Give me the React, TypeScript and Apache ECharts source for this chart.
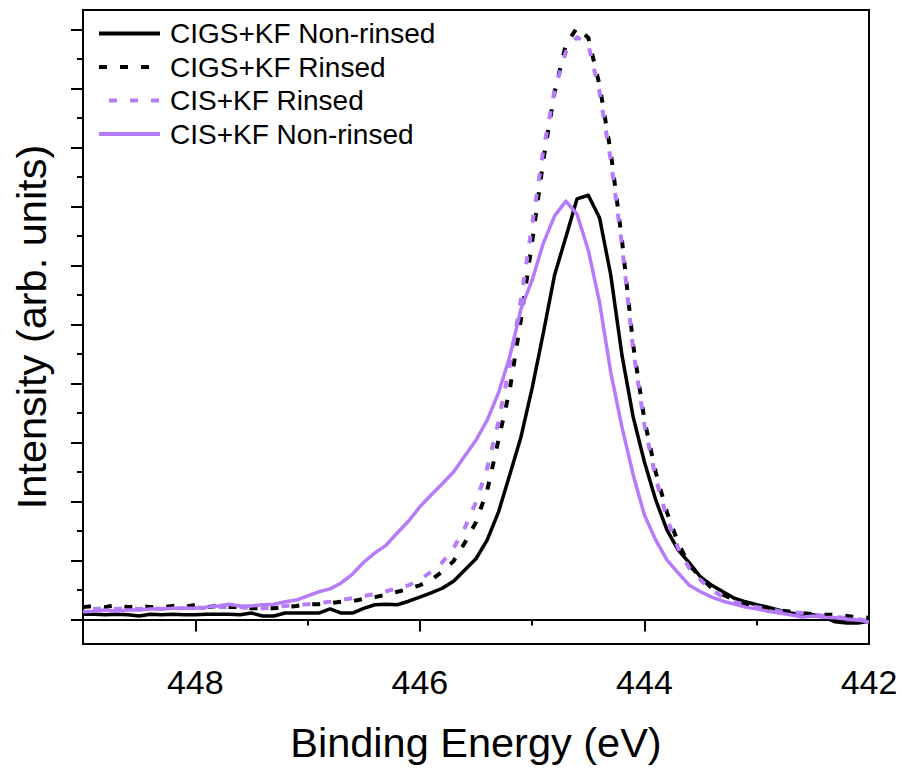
import React, { useEffect, useRef } from "react";
import * as echarts from "echarts";

const energy = [
  449.0, 448.9, 448.8, 448.7, 448.6, 448.5, 448.4, 448.3, 448.2, 448.1,
  448.0, 447.9, 447.8, 447.7, 447.6, 447.5, 447.4, 447.3, 447.2, 447.1,
  447.0, 446.9, 446.8, 446.7, 446.6, 446.5, 446.4, 446.3, 446.2, 446.1,
  446.0, 445.9, 445.8, 445.7, 445.6, 445.5, 445.4, 445.3, 445.2, 445.1,
  445.0, 444.9, 444.8, 444.7, 444.6, 444.5, 444.4, 444.3, 444.2, 444.1,
  444.0, 443.9, 443.8, 443.7, 443.6, 443.5, 443.4, 443.3, 443.2, 443.1,
  443.0, 442.9, 442.8, 442.7, 442.6, 442.5, 442.4, 442.3, 442.2, 442.1,
  442.0,
];

const cigsNonRinsed = [
  0.09, 0.09, 0.08, 0.09, 0.08, 0.06, 0.09, 0.08, 0.09, 0.08,
  0.08, 0.09, 0.09, 0.09, 0.08, 0.11, 0.06, 0.06, 0.11, 0.11,
  0.11, 0.11, 0.18, 0.11, 0.11, 0.19, 0.25, 0.26, 0.25, 0.31,
  0.38, 0.45, 0.53, 0.65, 0.84, 1.03, 1.35, 1.82, 2.45, 3.09,
  3.92, 4.86, 5.84, 6.48, 7.13, 7.19, 6.81, 5.84, 4.48, 3.43,
  2.67, 2.03, 1.52, 1.18, 0.96, 0.72, 0.58, 0.47, 0.36, 0.30,
  0.25, 0.21, 0.16, 0.11, 0.08, 0.08, 0.04, -0.04, -0.06, -0.06,
  -0.03,
];

const cigsRinsed = [
  0.21, 0.23, 0.21, 0.25, 0.21, 0.23, 0.21, 0.21, 0.23, 0.21,
  0.25, 0.21, 0.23, 0.21, 0.21, 0.19, 0.19, 0.19, 0.21, 0.23,
  0.26, 0.26, 0.28, 0.30, 0.31, 0.35, 0.38, 0.42, 0.47, 0.52,
  0.58, 0.67, 0.81, 0.99, 1.30, 1.65, 2.19, 3.04, 3.89, 5.08,
  6.40, 7.79, 8.94, 9.74, 10.03, 9.86, 9.06, 7.92, 6.43, 4.65,
  3.38, 2.50, 1.82, 1.30, 0.92, 0.72, 0.53, 0.42, 0.33, 0.26,
  0.23, 0.18, 0.16, 0.13, 0.11, 0.09, 0.08, 0.08, 0.06, 0.04,
  0.03,
];

const cisRinsed = [
  0.18, 0.18, 0.19, 0.18, 0.19, 0.18, 0.19, 0.18, 0.19, 0.19,
  0.21, 0.19, 0.21, 0.21, 0.21, 0.19, 0.19, 0.21, 0.23, 0.25,
  0.26, 0.28, 0.30, 0.33, 0.36, 0.40, 0.43, 0.48, 0.53, 0.58,
  0.67, 0.81, 0.97, 1.21, 1.55, 1.99, 2.57, 3.35, 4.31, 5.42,
  6.69, 7.96, 8.97, 9.62, 9.87, 9.74, 8.94, 7.79, 6.35, 4.57,
  3.30, 2.40, 1.72, 1.21, 0.87, 0.67, 0.50, 0.38, 0.30, 0.25,
  0.21, 0.18, 0.14, 0.13, 0.11, 0.09, 0.06, 0.04, 0.03, 0.01,
  -0.03,
];

const cisNonRinsed = [
  0.13, 0.14, 0.16, 0.14, 0.16, 0.16, 0.18, 0.18, 0.19, 0.19,
  0.19, 0.21, 0.23, 0.26, 0.23, 0.23, 0.25, 0.26, 0.30, 0.33,
  0.40, 0.47, 0.52, 0.62, 0.77, 0.97, 1.13, 1.26, 1.47, 1.67,
  1.91, 2.11, 2.30, 2.50, 2.77, 3.04, 3.38, 3.84, 4.45, 5.26,
  5.75, 6.38, 6.84, 7.09, 6.87, 6.26, 5.38, 4.19, 3.26, 2.45,
  1.77, 1.35, 1.01, 0.79, 0.58, 0.47, 0.38, 0.31, 0.26, 0.21,
  0.18, 0.14, 0.11, 0.08, 0.04, 0.06, 0.04, 0.03, 0.01, -0.01,
  -0.04,
];

const seriesNames = [
  "CIGS+KF Non-rinsed",
  "CIGS+KF Rinsed",
  "CIS+KF Rinsed",
  "CIS+KF Non-rinsed",
];

const xMajorTicks = [442, 444, 446, 448];
const xMinorTicks = [443, 445, 447, 449];
const yMajorTicks = [0, 1, 2, 3, 4, 5, 6, 7, 8, 9, 10];
const yMinorTicks = [0.5, 1.5, 2.5, 3.5, 4.5, 5.5, 6.5, 7.5, 8.5, 9.5];

const FONT = 'Arial, "Liberation Sans", Helvetica, sans-serif';
const PURPLE = "#b57bf9";
const BLACK = "#000000";
const DOTS = [8, 13];

function pairs(vals: number[]) {
  return energy.map((e, i) => [e, vals[i]]);
}

export default function App() {
  const ref = useRef<HTMLDivElement>(null);

  useEffect(() => {
    if (!ref.current) return;
    const chart = echarts.init(ref.current, undefined, { renderer: "svg" });

    const xBase = {
      type: "value" as const,
      min: 442,
      max: 449,
      inverse: true,
      position: "bottom" as const,
      splitLine: { show: false },
    };
    const yBase = {
      type: "value" as const,
      min: -0.415,
      max: 10.33,
      position: "left" as const,
      offset: 0,
      splitLine: { show: false },
    };

    const mkSeries = (
      name: string,
      vals: number[],
      color: string,
      dashed: boolean,
      dashOffset: number
    ) => ({
      name,
      type: "line" as const,
      data: pairs(vals),
      symbol: "none",
      showSymbol: false,
      xAxisIndex: 0,
      yAxisIndex: 0,
      itemStyle: { color },
      lineStyle: {
        color,
        width: dashed ? 4 : 3.5,
        type: dashed ? DOTS : "solid",
        dashOffset,
        cap: "butt",
        join: "round",
      },
    });

    chart.setOption({
      animation: false,
      backgroundColor: "#ffffff",
      textStyle: { fontFamily: FONT },
      grid: {
        left: 83,
        right: 33,
        top: 10,
        bottom: 124,
        show: true,
        borderColor: BLACK,
        borderWidth: 2,
        containLabel: false,
        outerBoundsMode: "none",
      },
      legend: {
        orient: "vertical",
        left: 97,
        top: 19.5,
        padding: 0,
        itemGap: 5.5,
        itemWidth: 61,
        itemHeight: 14,
        selectedMode: false,
        data: seriesNames,
        itemStyle: { opacity: 0, borderWidth: 0 },
        lineStyle: { width: 4 },
        textStyle: {
          fontFamily: FONT,
          fontSize: 28,
          lineHeight: 28,
          color: BLACK,
          padding: [0, 0, 0, 5],
        },
      },
      xAxis: [
        {
          ...xBase,
          interval: 1,
          name: "Binding Energy (eV)",
          nameLocation: "middle",
          nameGap: 77,
          nameTextStyle: { fontFamily: FONT, fontSize: 41.5, color: BLACK },
          axisLine: { show: true, lineStyle: { color: BLACK, width: 2 } },
          axisTick: {
            show: true,
            customValues: xMajorTicks,
            length: 12,
            lineStyle: { color: BLACK, width: 2 },
          },
          axisLabel: {
            show: true,
            customValues: xMajorTicks,
            margin: 21,
            fontFamily: FONT,
            fontSize: 34,
            color: BLACK,
          },
        },
        {
          ...xBase,
          interval: 1,
          axisLine: { show: false },
          axisTick: {
            show: true,
            customValues: xMinorTicks,
            length: 6,
            lineStyle: { color: BLACK, width: 2 },
          },
          axisLabel: { show: false },
        },
      ],
      yAxis: [
        {
          ...yBase,
          name: "Intensity (arb. units)",
          nameLocation: "middle",
          nameGap: 31,
          nameTextStyle: { fontFamily: FONT, fontSize: 41.5, color: BLACK },
          axisLine: { show: true, lineStyle: { color: BLACK, width: 2 } },
          axisTick: {
            show: true,
            customValues: yMajorTicks,
            length: 12,
            lineStyle: { color: BLACK, width: 2 },
          },
          axisLabel: { show: false },
        },
        {
          ...yBase,
          axisLine: { show: false },
          axisTick: {
            show: true,
            customValues: yMinorTicks,
            length: 6,
            lineStyle: { color: BLACK, width: 2 },
          },
          axisLabel: { show: false },
        },
      ],
      series: [
        mkSeries(seriesNames[0], cigsNonRinsed, BLACK, false, 0),
        mkSeries(seriesNames[1], cigsRinsed, BLACK, true, 0),
        mkSeries(seriesNames[2], cisRinsed, PURPLE, true, 10.5),
        mkSeries(seriesNames[3], cisNonRinsed, PURPLE, false, 0),
      ],
    });

    return () => chart.dispose();
  }, []);

  return (
    <div
      ref={ref}
      style={{ width: 902, height: 768, position: "absolute", left: 0, top: 0 }}
    />
  );
}
